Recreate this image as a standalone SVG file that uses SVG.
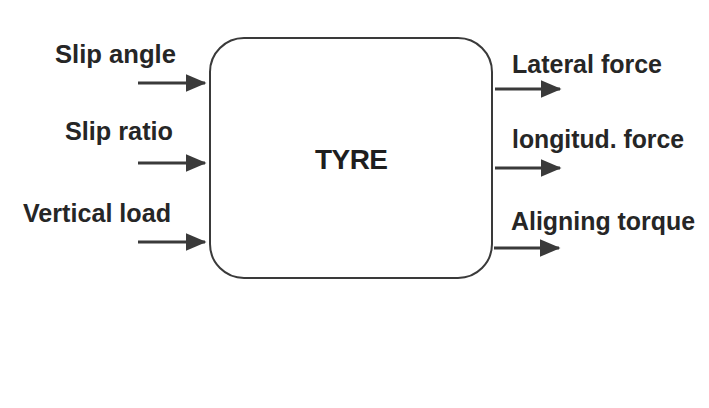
<svg xmlns="http://www.w3.org/2000/svg" width="709" height="408" viewBox="0 0 709 408">
<style>
.lbl{font-family:"Liberation Sans",Arial,sans-serif;font-weight:bold;font-size:25px;fill:#262626}
.title{font-family:"Liberation Sans",Arial,sans-serif;font-weight:bold;font-size:28px;fill:#1e1e1e}
.box{fill:#fff;stroke:#3a3a3a;stroke-width:2}
.conn{stroke:#3a3a3a;stroke-width:3;fill:none;marker-end:url(#ah)}
</style>
<defs>
<marker id="ah" markerWidth="7" markerHeight="6" refX="6.5" refY="3" orient="auto" markerUnits="strokeWidth">
<path d="M0,0 L7,3 L0,6 Z" fill="#3a3a3a"/>
</marker>
</defs>
<rect width="709" height="408" fill="#fff"/>
<g id="tyre">
<rect class="box" x="210" y="38" width="282" height="240" rx="34" ry="34"/>
<text class="title" x="315" y="169" textLength="73">TYRE</text>
</g>
<g id="in-slip-angle"><text class="lbl" x="55" y="63" textLength="121" lengthAdjust="spacingAndGlyphs">Slip angle</text></g>
<g id="in-slip-ratio"><text class="lbl" x="65" y="140" textLength="108" lengthAdjust="spacingAndGlyphs">Slip ratio</text></g>
<g id="in-vertical-load"><text class="lbl" x="23" y="222" textLength="148" lengthAdjust="spacingAndGlyphs">Vertical load</text></g>
<g id="out-lateral"><text class="lbl" x="512" y="73" textLength="150" lengthAdjust="spacingAndGlyphs">Lateral force</text></g>
<g id="out-longitudinal"><text class="lbl" x="512" y="148" textLength="172" lengthAdjust="spacingAndGlyphs">longitud. force</text></g>
<g id="out-aligning"><text class="lbl" x="511" y="230" textLength="184" lengthAdjust="spacingAndGlyphs">Aligning torque</text></g>
<g id="connectors">
<line class="conn" x1="138" y1="83" x2="205" y2="83"/>
<line class="conn" x1="138" y1="163" x2="205" y2="163"/>
<line class="conn" x1="138" y1="242" x2="205" y2="242"/>
<line class="conn" x1="495" y1="89" x2="560" y2="89"/>
<line class="conn" x1="495" y1="168" x2="560" y2="168"/>
<line class="conn" x1="494" y1="248" x2="559" y2="248"/>
</g>
</svg>
